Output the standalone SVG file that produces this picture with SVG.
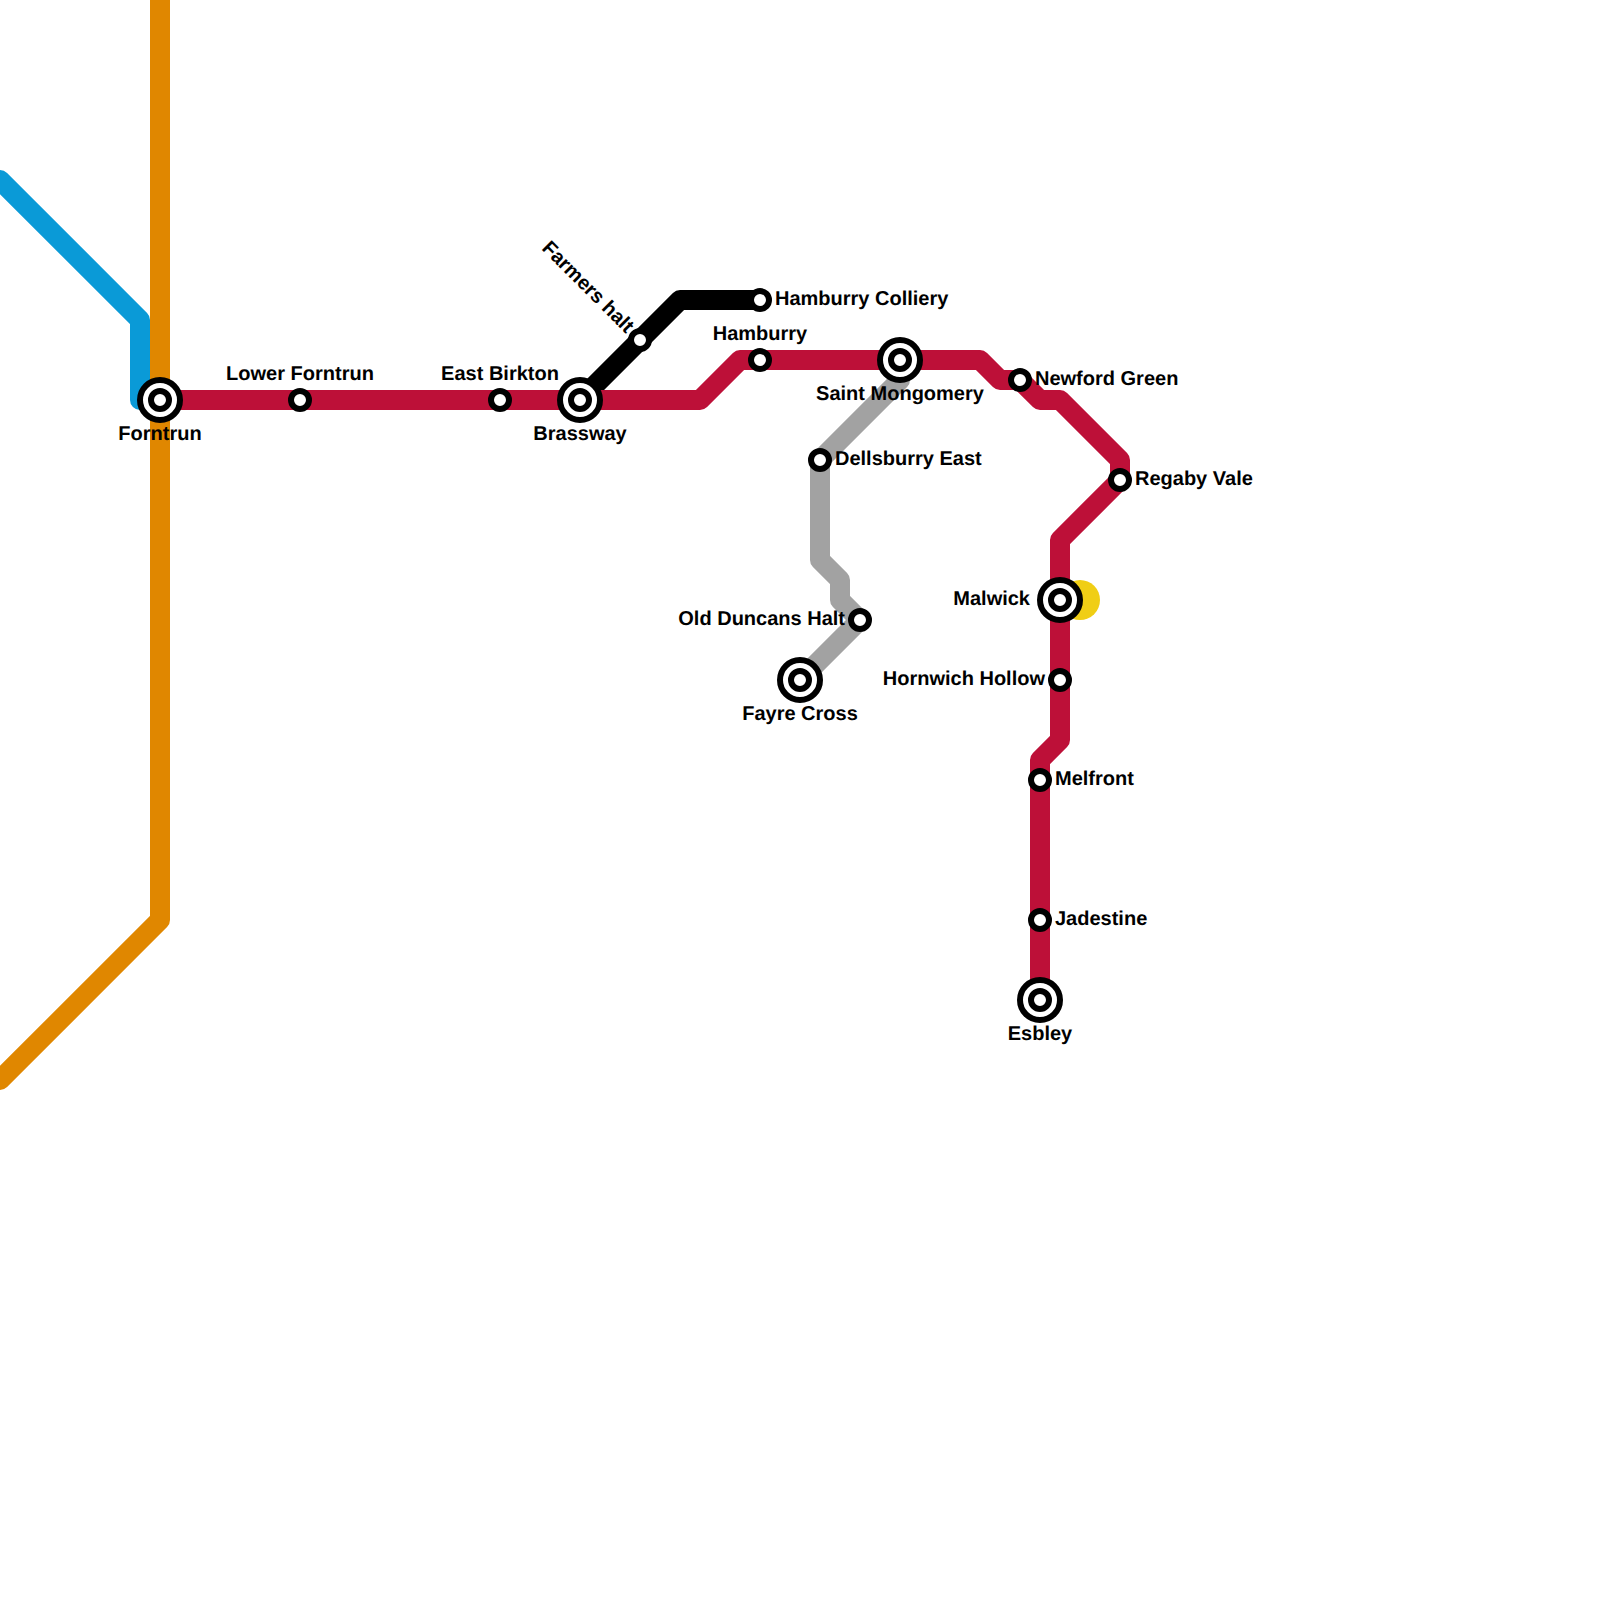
<svg xmlns="http://www.w3.org/2000/svg" width="1600" height="1600" viewBox="0 0 1600 1600">
<style>
.l{fill:none;stroke-width:20;stroke-linejoin:round;stroke-linecap:round}
.s circle{fill:#fff;stroke:#000;stroke-width:6}
text{font-family:"Liberation Sans",Arial,sans-serif;font-weight:700;font-size:20px;fill:#000;text-rendering:geometricPrecision}
.m{text-anchor:middle}.e{text-anchor:end}
</style>
<rect width="1600" height="1600" fill="#fff"/>
<g id="connectors">
<circle cx="1080" cy="600" r="20" fill="#f0ce15"/>
<path class="l" stroke="#0a9ad7" d="M0,180L140,320V400H160"/>
<path class="l" stroke="#e08700" d="M160,0V920L0,1080"/>
<path class="l" stroke="#a2a2a2" d="M900,360V380L820,460V560L840,580V600L860,620L800,680"/>
<path class="l" stroke="#000" d="M580,400L680,300H760"/>
<path class="l" stroke="#bd1038" d="M160,400H700L740,360H980L1000,380H1020L1040,400H1060L1120,460V480L1060,540V740L1040,760V1000"/>
</g>
<g id="st-forntrun" class="s"><circle cx="160" cy="400" r="20"/><circle cx="160" cy="400" r="9"/><text class="m" x="160" y="440">Forntrun</text></g>
<g id="st-lower-forntrun" class="s"><circle cx="300" cy="400" r="9"/><text class="m" x="300" y="380">Lower Forntrun</text></g>
<g id="st-east-birkton" class="s"><circle cx="500" cy="400" r="9"/><text class="m" x="500" y="380">East Birkton</text></g>
<g id="st-brassway" class="s"><circle cx="580" cy="400" r="20"/><circle cx="580" cy="400" r="9"/><text class="m" x="580" y="440">Brassway</text></g>
<g id="st-farmers-halt" class="s"><circle cx="640" cy="340" r="9"/><text class="e" transform="translate(626,334) rotate(45)">Farmers halt</text></g>
<g id="st-hamburry-colliery" class="s"><circle cx="760" cy="300" r="9"/><text x="775" y="305">Hamburry Colliery</text></g>
<g id="st-hamburry" class="s"><circle cx="760" cy="360" r="9"/><text class="m" x="760" y="340">Hamburry</text></g>
<g id="st-saint-mongomery" class="s"><circle cx="900" cy="360" r="20"/><circle cx="900" cy="360" r="9"/><text class="m" x="900" y="400">Saint Mongomery</text></g>
<g id="st-newford-green" class="s"><circle cx="1020" cy="380" r="9"/><text x="1035" y="385">Newford Green</text></g>
<g id="st-regaby-vale" class="s"><circle cx="1120" cy="480" r="9"/><text x="1135" y="485">Regaby Vale</text></g>
<g id="st-malwick" class="s"><circle cx="1060" cy="600" r="20"/><circle cx="1060" cy="600" r="9"/><text class="e" x="1030" y="605">Malwick</text></g>
<g id="st-hornwich-hollow" class="s"><circle cx="1060" cy="680" r="9"/><text class="e" x="1045" y="685">Hornwich Hollow</text></g>
<g id="st-melfront" class="s"><circle cx="1040" cy="780" r="9"/><text x="1055" y="785">Melfront</text></g>
<g id="st-jadestine" class="s"><circle cx="1040" cy="920" r="9"/><text x="1055" y="925">Jadestine</text></g>
<g id="st-esbley" class="s"><circle cx="1040" cy="1000" r="20"/><circle cx="1040" cy="1000" r="9"/><text class="m" x="1040" y="1040">Esbley</text></g>
<g id="st-dellsburry-east" class="s"><circle cx="820" cy="460" r="9"/><text x="835" y="465">Dellsburry East</text></g>
<g id="st-old-duncans-halt" class="s"><circle cx="860" cy="620" r="9"/><text class="e" x="845" y="625">Old Duncans Halt</text></g>
<g id="st-fayre-cross" class="s"><circle cx="800" cy="680" r="20"/><circle cx="800" cy="680" r="9"/><text class="m" x="800" y="720">Fayre Cross</text></g>
</svg>
